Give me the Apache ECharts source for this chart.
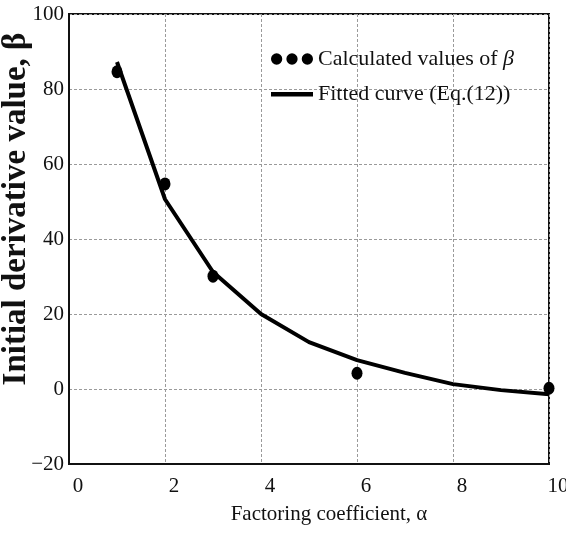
<!DOCTYPE html>
<html>
<head>
<meta charset="utf-8">
<script src="https://cdn.jsdelivr.net/npm/echarts@6/dist/echarts.min.js"></script>
<style>
  html, body { margin: 0; padding: 0; background: #fff; }
  #main { width: 566px; height: 544px; }
</style>
</head>
<body>
<div id="main"></div>
<script>
// values
var calcAlpha = [1, 2, 3, 6, 10]
var calcBeta = [84.6, 54.7, 30.1, 4.2, 0.2]
var fitAlpha = [1, 2, 3, 4, 5, 6, 7, 8, 9, 10]
var fitBeta = [87.2, 50.6, 31.2, 20, 12.5, 7.7, 4.3, 1.3, -0.3, -1.4]
var xTicks = { min: 0, max: 10, step: 2 }
var yTicks = { min: -20, max: 100, step: 20 }

var serif = 'Liberation Serif'
var threeDots = 'path://M0.5,6a5.5,5.5 0 1,0 11,0a5.5,5.5 0 1,0 -11,0z' +
  'M15.5,6a5.5,5.5 0 1,0 11,0a5.5,5.5 0 1,0 -11,0z' +
  'M30.5,6a5.5,5.5 0 1,0 11,0a5.5,5.5 0 1,0 -11,0z'
// thick bar, padded with empty points so it keeps its 12px box
var lineIcon = 'path://M0,0L0,0M0,4L42,4L42,8.5L0,8.5ZM42,12L42,12'

var chart = echarts.init(document.getElementById('main'))

var gridLine = {
  show: true,
  lineStyle: { color: '#9a9a9a', width: 1, type: [3, 2] }
}

chart.setOption({
  animation: false,
  backgroundColor: '#fff',
  grid: {
    left: 69, right: 17, top: 14, bottom: 80,
    outerBoundsMode: 'none',
    containLabel: false,
    show: true, borderColor: '#111', borderWidth: 2
  },
  legend: {
    orient: 'vertical',
    left: 266,
    top: 43,
    itemWidth: 42,
    itemHeight: 12,
    itemGap: 13,
    textStyle: {
      fontFamily: serif, fontSize: 22, color: '#111',
      rich: {
        b: { fontFamily: serif, fontSize: 22, fontStyle: 'italic', color: '#111' }
      }
    },
    formatter: function (name) {
      if (name === 'calc') return 'Calculated values of {b|β}'
      return 'Fitted curve (Eq.(12))'
    },
    data: [
      { name: 'calc', icon: threeDots, itemStyle: { color: '#000', opacity: 1 } },
      { name: 'fit', icon: lineIcon, itemStyle: { color: '#000', opacity: 1 } }
    ]
  },
  xAxis: {
    type: 'value',
    min: xTicks.min, max: xTicks.max, interval: xTicks.step,
    name: 'Factoring coefficient, α',
    nameLocation: 'middle',
    nameGap: 40,
    nameMoveOverlap: false,
    nameTextStyle: { fontFamily: serif, fontSize: 21, color: '#111', padding: [0, 0, 0, 40] },
    axisLine: { show: true, onZero: false, lineStyle: { color: '#111', width: 2 } },
    axisTick: { show: false },
    axisLabel: { fontFamily: serif, fontSize: 21, color: '#111', margin: 12, padding: [0, 0, 0, 18] },
    splitLine: gridLine
  },
  yAxis: {
    type: 'value',
    min: yTicks.min, max: yTicks.max, interval: yTicks.step,
    name: 'Initial derivative value, β',
    nameLocation: 'middle',
    nameGap: 36,
    nameMoveOverlap: false,
    nameTextStyle: {
      fontFamily: serif, fontSize: 33, fontWeight: 'bold', color: '#111',
      padding: [0, 0, 0, 60]
    },
    axisLine: { show: true, onZero: false, lineStyle: { color: '#111', width: 2 } },
    axisTick: { show: false },
    axisLabel: {
      fontFamily: serif, fontSize: 21, color: '#111', margin: 5,
      formatter: function (v) { return String(v).replace('-', '\u2212') }
    },
    splitLine: gridLine
  },
  series: [
    {
      name: 'fit',
      type: 'line',
      data: fitAlpha.map(function (a, i) { return [a, fitBeta[i]] }),
      symbol: 'none',
      lineStyle: { color: '#000', width: 4 },
      itemStyle: { color: '#000' },
      z: 3
    },
    {
      name: 'calc',
      type: 'scatter',
      data: calcAlpha.map(function (a, i) { return [a, calcBeta[i]] }),
      symbol: 'circle',
      symbolSize: [11, 13],
      itemStyle: { color: '#000', opacity: 1 },
      z: 4
    }
  ]
})
</script>
</body>
</html>
